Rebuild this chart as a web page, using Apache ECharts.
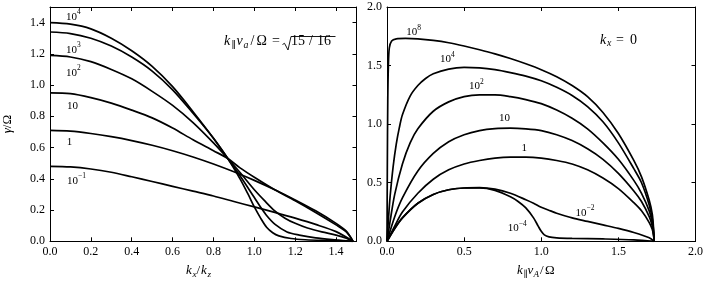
<!DOCTYPE html>
<html><head><meta charset="utf-8">
<script src="https://cdn.jsdelivr.net/npm/echarts@6/dist/echarts.min.js"></script>
<style>html,body{margin:0;padding:0;background:#fff}#c{width:706px;height:283px}</style>
</head><body><div id="c"></div>
<script>
// ---------- Left panel: gamma/Omega vs kx/kz (k_par v_a / Omega = sqrt(15/16)) ----------
const L_1e4_x = [0,0.1,0.2,0.3,0.4,0.5,0.6,0.7,0.8,0.87,0.93,0.97,1.0,1.03,1.06,1.09,1.12,1.18,1.25,1.35,1.483];
const L_1e4_y = [1.40,1.39,1.36,1.30,1.22,1.12,0.99,0.83,0.66,0.53,0.40,0.30,0.22,0.15,0.09,0.055,0.035,0.018,0.01,0.005,0];
const L_1e3_x = [0,0.1,0.2,0.3,0.4,0.5,0.6,0.7,0.8,0.87,0.93,1.0,1.03,1.06,1.1,1.16,1.22,1.3,1.4,1.483];
const L_1e3_y = [1.34,1.33,1.30,1.25,1.18,1.09,0.97,0.82,0.66,0.53,0.42,0.28,0.22,0.165,0.11,0.06,0.04,0.022,0.009,0];
const L_1e2_x = [0,0.1,0.2,0.3,0.4,0.5,0.6,0.7,0.8,0.87,0.93,1.0,1.05,1.1,1.15,1.2,1.26,1.33,1.4,1.45,1.483];
const L_1e2_y = [1.19,1.18,1.15,1.10,1.04,0.96,0.87,0.76,0.63,0.53,0.44,0.33,0.26,0.195,0.148,0.115,0.085,0.06,0.04,0.02,0];
const L_10_x = [0,0.1,0.2,0.3,0.4,0.5,0.6,0.7,0.8,0.87,0.93,1.0,1.1,1.2,1.3,1.4,1.45,1.483];
const L_10_y = [0.95,0.945,0.92,0.885,0.84,0.79,0.725,0.65,0.58,0.53,0.47,0.41,0.33,0.26,0.185,0.105,0.06,0];
const L_1_x = [0,0.1,0.2,0.3,0.4,0.5,0.6,0.7,0.8,0.9,1.0,1.1,1.2,1.3,1.4,1.45,1.483];
const L_1_y = [0.71,0.705,0.69,0.67,0.645,0.615,0.58,0.54,0.495,0.445,0.39,0.33,0.265,0.195,0.115,0.065,0];
const L_01_x = [0,0.1,0.2,0.3,0.4,0.5,0.6,0.7,0.8,0.9,1.0,1.1,1.2,1.3,1.4,1.483];
const L_01_y = [0.48,0.476,0.463,0.442,0.413,0.383,0.352,0.321,0.29,0.255,0.22,0.185,0.148,0.108,0.062,0];

// ---------- Right panel: gamma/Omega vs k_par v_A / Omega (kx = 0) ----------
const R_1e8_x = [0,0.002,0.005,0.009,0.015,0.03,0.06,0.12,0.2,0.3,0.4,0.5,0.6,0.7,0.8,0.9,1.0,1.1,1.2,1.3,1.4,1.5,1.6,1.65,1.7,1.72,1.728,1.732];
const R_1e8_y = [0,0.6,1.2,1.5,1.65,1.71,1.728,1.732,1.728,1.715,1.695,1.667,1.635,1.6,1.56,1.515,1.465,1.405,1.33,1.235,1.1,0.92,0.69,0.55,0.35,0.23,0.11,0];
const R_1e4_x = [0,0.01,0.02,0.04,0.06,0.08,0.1,0.15,0.2,0.25,0.3,0.4,0.5,0.6,0.7,0.8,0.9,1.0,1.1,1.2,1.3,1.4,1.5,1.6,1.65,1.7,1.72,1.728,1.732];
const R_1e4_y = [0,0.2,0.38,0.64,0.83,0.97,1.08,1.24,1.33,1.39,1.43,1.47,1.484,1.48,1.465,1.44,1.41,1.37,1.315,1.245,1.15,1.02,0.84,0.62,0.5,0.31,0.19,0.09,0];
const R_1e2_x = [0,0.02,0.05,0.1,0.15,0.2,0.3,0.4,0.5,0.6,0.7,0.8,0.9,1.0,1.1,1.2,1.3,1.4,1.5,1.6,1.65,1.7,1.72,1.728,1.732];
const R_1e2_y = [0,0.17,0.4,0.66,0.84,0.96,1.11,1.19,1.235,1.25,1.25,1.235,1.21,1.175,1.12,1.05,0.96,0.84,0.70,0.52,0.41,0.26,0.16,0.075,0];
const R_10_x = [0,0.05,0.1,0.2,0.3,0.4,0.5,0.6,0.7,0.8,0.9,1.0,1.1,1.2,1.3,1.4,1.5,1.6,1.65,1.7,1.72,1.728,1.732];
const R_10_y = [0,0.21,0.37,0.6,0.75,0.85,0.91,0.945,0.962,0.966,0.96,0.945,0.91,0.86,0.79,0.70,0.58,0.43,0.34,0.21,0.13,0.06,0];
const R_1_x = [0,0.05,0.1,0.2,0.3,0.4,0.5,0.6,0.7,0.8,0.9,1.0,1.1,1.2,1.3,1.4,1.5,1.6,1.65,1.7,1.72,1.728,1.732];
const R_1_y = [0,0.13,0.25,0.41,0.53,0.61,0.66,0.69,0.71,0.718,0.718,0.71,0.69,0.66,0.61,0.54,0.45,0.33,0.26,0.16,0.1,0.05,0];
const R_1em2_x = [0,0.05,0.1,0.2,0.3,0.4,0.5,0.6,0.7,0.8,0.9,0.95,1.0,1.06,1.1,1.2,1.3,1.4,1.5,1.6,1.7,1.732];
const R_1em2_y = [0,0.11,0.2,0.325,0.40,0.44,0.455,0.458,0.445,0.41,0.355,0.325,0.29,0.26,0.24,0.2,0.17,0.14,0.11,0.075,0.03,0];
const R_1em4_x = [0,0.05,0.1,0.2,0.3,0.4,0.5,0.6,0.7,0.8,0.85,0.9,0.95,0.98,1.0,1.02,1.05,1.1,1.2,1.4,1.6,1.732];
const R_1em4_y = [0,0.11,0.2,0.325,0.40,0.44,0.455,0.455,0.435,0.38,0.34,0.285,0.2,0.13,0.085,0.055,0.038,0.03,0.025,0.02,0.012,0];

// curve labels: [base, exponent, x, y] in data coordinates
const leftLabels = [['10','4',0.115,1.446],['10','3',0.115,1.235],['10','2',0.115,1.088],['10','',0.11,0.877],['1','',0.096,0.647],['10','\u22121',0.13,0.398]];
const rightLabels = [['10','8',0.173,1.797],['10','4',0.392,1.567],['10','2',0.58,1.336],['10','',0.761,1.062],['1','',0.89,0.806],['10','\u22122',1.284,0.257],['10','\u22124',0.845,0.122]];

// axis ranges / tick steps
const leftXMax = 1.5, leftXStep = 0.2, leftYMax = 1.5, leftYStep = 0.2;
const rightXMax = 2.0, rightXStep = 0.5, rightYMax = 2.0, rightYStep = 0.5;

const FONT = "'Liberation Serif','DejaVu Serif',serif";
const zip = (xs, ys) => xs.map((x, i) => [x, ys[i]]);

const rich = {
  n: {fontFamily: FONT, fontSize: 11, color: '#000', lineHeight: 14, verticalAlign: 'bottom'},
  sup: {fontFamily: FONT, fontSize: 7.5, color: '#000', lineHeight: 9, verticalAlign: 'top'},
  m: {fontFamily: FONT, fontSize: 13, color: '#000'},
  i: {fontFamily: FONT, fontSize: 13, fontStyle: 'italic', color: '#000'}
};

function fmt(step) {
  return v => (Math.abs(v / step - Math.round(v / step)) < 1e-6) ? v.toFixed(1) : '';
}
function mkX(grid, max, step, pos) {
  return {
    type: 'value', gridIndex: grid, position: pos, min: 0, max: max, interval: step,
    axisLine: {show: true, onZero: false, lineStyle: {color: '#000', width: 1}},
    axisTick: {show: true, inside: true, length: 4, lineStyle: {color: '#000', width: 1}},
    splitLine: {show: false},
    axisLabel: {show: pos === 'bottom', formatter: fmt(step), color: '#000', fontFamily: FONT, fontSize: 12, margin: 5}
  };
}
function mkY(grid, max, step, pos) {
  return {
    type: 'value', gridIndex: grid, position: pos, min: 0, max: max, interval: step,
    axisLine: {show: true, onZero: false, lineStyle: {color: '#000', width: 1}},
    axisTick: {show: true, inside: true, length: 4, lineStyle: {color: '#000', width: 1}},
    splitLine: {show: false},
    axisLabel: {show: pos === 'left', formatter: fmt(step), color: '#000', fontFamily: FONT, fontSize: 12, margin: 5},
    nameLocation: 'middle', nameGap: 36, nameRotate: 90, nameTextStyle: {rich: rich}
  };
}

const xAxes = [mkX(0, leftXMax, leftXStep, 'bottom'), mkX(0, leftXMax, leftXStep, 'top'),
               mkX(1, rightXMax, rightXStep, 'bottom'), mkX(1, rightXMax, rightXStep, 'top')];
const yAxes = [mkY(0, leftYMax, leftYStep, 'left'), mkY(0, leftYMax, leftYStep, 'right'),
               mkY(1, rightYMax, rightYStep, 'left'), mkY(1, rightYMax, rightYStep, 'right')];
yAxes[0].name = '{i|\u03B3}{m|/\u03A9}';

const leftSeries = [[L_1e4_x,L_1e4_y],[L_1e3_x,L_1e3_y],[L_1e2_x,L_1e2_y],[L_10_x,L_10_y],[L_1_x,L_1_y],[L_01_x,L_01_y]];
const rightSeries = [[R_1e8_x,R_1e8_y],[R_1e4_x,R_1e4_y],[R_1e2_x,R_1e2_y],[R_10_x,R_10_y],[R_1_x,R_1_y],[R_1em2_x,R_1em2_y],[R_1em4_x,R_1em4_y]];

function line(xs, ys, xi, yi) {
  return {type: 'line', xAxisIndex: xi, yAxisIndex: yi, data: zip(xs, ys), symbol: 'none', showSymbol: false,
    smooth: 0.3, lineStyle: {color: '#000', width: 1.7}, silent: true, animation: false};
}
const series = [];
leftSeries.forEach(s => series.push(line(s[0], s[1], 0, 0)));
rightSeries.forEach(s => series.push(line(s[0], s[1], 2, 2)));

const chart = echarts.init(document.getElementById('c'), null, {renderer: 'canvas'});
chart.setOption({
  animation: false,
  backgroundColor: '#fff',
  grid: [{left: 48, top: 7, width: 308.5, height: 234.3}, {left: 387, top: 7, width: 310, height: 234.3}],
  xAxis: xAxes, yAxis: yAxes, series: series
});

const graphics = [];
function addLabels(list, xi, yi) {
  list.forEach(l => {
    const p = chart.convertToPixel({xAxisIndex: xi, yAxisIndex: yi}, [l[2], l[3]]);
    const t = l[1] ? '{n|' + l[0] + '}{sup|' + l[1] + '}' : '{n|' + l[0] + '}';
    graphics.push({type: 'text', x: p[0], y: p[1], style: {text: t, rich: rich, align: 'center', verticalAlign: 'middle'}, silent: true});
  });
}
addLabels(leftLabels, 0, 0);
addLabels(rightLabels, 2, 2);

// math text pieces: [text, x, y, kind, align]  kind: i=italic, m=upright, s=italic subscript, u=upright subscript
function math(pieces, size) {
  pieces.forEach(p => {
    const sub = p[3] === 's' || p[3] === 'u';
    graphics.push({type: 'text', x: p[1], y: p[2], silent: true, style: {
      text: p[0], fontFamily: FONT, fontSize: sub ? size * 0.7 : size,
      fontStyle: (p[3] === 'i' || p[3] === 's') ? 'italic' : 'normal',
      fill: '#000', align: p[4] || 'left', verticalAlign: 'middle'}});
  });
}
// left annotation: k_par v_a / Omega = sqrt(15/16)
math([['k',224,41.5,'i'],['\u2225',231.5,45.5,'u'],['v',236.5,41.5,'i'],['a',243.5,45,'s'],
      ['/',250.5,41.5,'m'],['\u03A9',256.5,41.5,'m'],['=',272,41.5,'m'],
      ['1',294.5,41.5,'m','center'],['5',301.5,41.5,'m','center'],['/',311,41.5,'m','center'],['1',320.5,41.5,'m','center'],['6',327.5,41.5,'m','center']], 14);
graphics.push({type: 'polyline', silent: true, shape: {points: [[282.5,44.5],[284.5,43.3],[288,50],[291,36.5],[335.5,36.5]]},
  style: {stroke: '#000', lineWidth: 0.9, fill: null}});
// right annotation: k_x = 0
math([['k',600,40,'i'],['x',607,43.5,'s'],['=',616,40,'m'],['0',630,40,'m']], 14);
// x-axis names
math([['k',186,271,'i'],['x',192.5,275,'s'],['/',196.5,271,'m'],['k',201,271,'i'],['z',207.5,275,'s']], 13);
math([['k',517,271,'i'],['\u2225',523.5,275,'u'],['v',527.5,271,'i'],['A',533.5,275,'s'],['/',540,271,'m'],['\u03A9',545,271,'m']], 13);

chart.setOption({graphic: graphics});
</script>
</body></html>
